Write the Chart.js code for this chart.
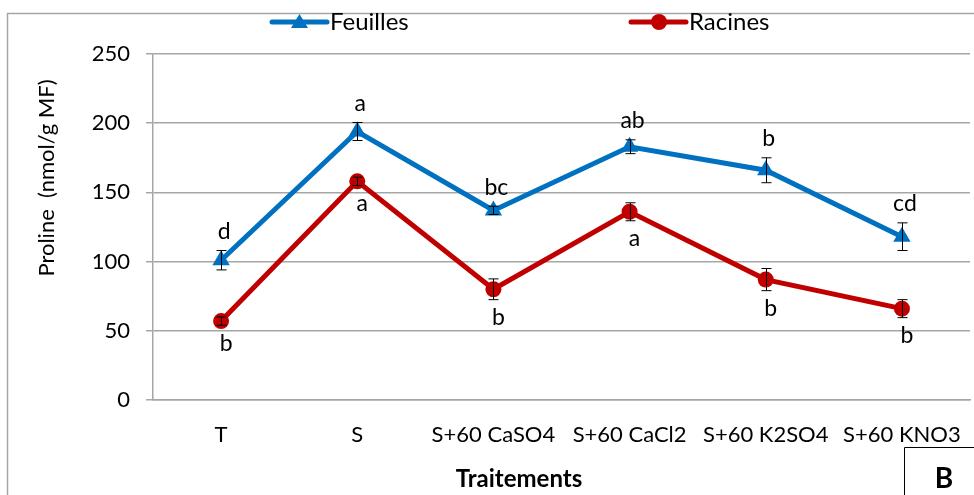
<!DOCTYPE html>
<html>
<head>
<meta charset="utf-8">
<script src="https://cdn.jsdelivr.net/npm/chart.js@4.4.0/dist/chart.umd.min.js"></script>
<style>
  html, body { margin: 0; padding: 0; background: #fff; overflow: hidden; }
  #wrap { position: relative; width: 974px; height: 495px; overflow: hidden; }
</style>
</head>
<body>
<div id="wrap"><canvas id="chart" width="980" height="495"></canvas></div>
<script>
// categories and values
const treatments = ['T', 'S', 'S+60 CaSO4', 'S+60 CaCl2', 'S+60 K2SO4', 'S+60 KNO3'];
const feuilles = [101, 194, 137, 183, 166, 118];
const feuillesErr = [7, 6.5, 3, 5, 9, 10];
const racines = [57, 158, 80, 136, 87, 66];
const racinesErr = [3, 3, 7.5, 6.5, 8, 6.5];
const lettersFeuilles = ['d', 'a', 'bc', 'ab', 'b', 'cd'];
const lettersRacines = ['b', 'a', 'b', 'a', 'b', 'b'];
const yTicks = [0, 50, 100, 150, 200, 250];

const FONT = 'Lato, "Liberation Sans", sans-serif';
const BLUE = '#0070C0';
const RED = '#C00000';
const GRID = '#a6a6a6';

// error bars, significance letters, legend, axis titles and the frame
const extras = {
  id: 'extras',
  afterDatasetsDraw(chart) {
    const ctx = chart.ctx;
    const x = chart.scales.x;
    const y = chart.scales.y;
    ctx.save();
    ctx.strokeStyle = '#000';
    ctx.lineWidth = 1;
    [[feuilles, feuillesErr], [racines, racinesErr]].forEach(([vals, errs]) => {
      vals.forEach((v, i) => {
        const px = Math.round(x.getPixelForValue(i)) + 0.5;
        const top = y.getPixelForValue(v + errs[i]);
        const bot = y.getPixelForValue(v - errs[i]);
        ctx.beginPath();
        ctx.moveTo(px, top); ctx.lineTo(px, bot);
        ctx.moveTo(px - 5, top); ctx.lineTo(px + 5, top);
        ctx.moveTo(px - 5, bot); ctx.lineTo(px + 5, bot);
        ctx.stroke();
      });
    });

    ctx.fillStyle = '#000';
    ctx.font = '23px ' + FONT;
    ctx.textAlign = 'center';
    ctx.textBaseline = 'middle';
    lettersFeuilles.forEach((t, i) => {
      ctx.fillText(t, x.getPixelForValue(i) + 3, y.getPixelForValue(feuilles[i] + feuillesErr[i]) - 19);
    });
    lettersRacines.forEach((t, i) => {
      ctx.fillText(t, x.getPixelForValue(i) + 5, y.getPixelForValue(racines[i] - racinesErr[i]) + 18);
    });
    ctx.restore();
  },
  afterDraw(chart) {
    const ctx = chart.ctx;
    ctx.save();

    // outer frame (left and top edges visible)
    ctx.strokeStyle = GRID;
    ctx.lineWidth = 1.5;
    ctx.beginPath();
    ctx.moveTo(7.5, 495); ctx.lineTo(7.5, 13.5); ctx.lineTo(980, 13.5);
    ctx.stroke();

    // legend
    const items = [
      { label: 'Feuilles', color: BLUE, style: 'triangle', x: 272 },
      { label: 'Racines', color: RED, style: 'circle', x: 631 }
    ];
    items.forEach(it => {
      const ly = 22;
      ctx.strokeStyle = it.color;
      ctx.lineWidth = 5;
      ctx.lineCap = 'round';
      ctx.beginPath();
      ctx.moveTo(it.x, ly); ctx.lineTo(it.x + 55, ly);
      ctx.stroke();
      ctx.fillStyle = it.color;
      ctx.beginPath();
      if (it.style === 'triangle') {
        ctx.moveTo(it.x + 27.5, ly - 8);
        ctx.lineTo(it.x + 36, ly + 6);
        ctx.lineTo(it.x + 19, ly + 6);
        ctx.closePath();
      } else {
        ctx.arc(it.x + 28, ly, 8, 0, Math.PI * 2);
      }
      ctx.fill();
      ctx.fillStyle = '#000';
      ctx.font = '24px ' + FONT;
      ctx.textAlign = 'left';
      ctx.textBaseline = 'middle';
      ctx.fillText(it.label, it.x + 58, ly);
    });

    // axis titles
    ctx.fillStyle = '#000';
    ctx.font = 'bold 24px ' + FONT;
    ctx.textAlign = 'center';
    ctx.textBaseline = 'middle';
    ctx.fillText('Traitements', 519, 479);

    ctx.save();
    ctx.translate(47, 178);
    ctx.rotate(-Math.PI / 2);
    ctx.font = '22px ' + FONT;
    ctx.fillText('Proline  (nmol/g MF)', 0, 0);
    ctx.restore();

    // panel tag
    ctx.strokeStyle = '#000';
    ctx.lineWidth = 1;
    ctx.beginPath();
    ctx.moveTo(904.5, 495); ctx.lineTo(904.5, 447.5); ctx.lineTo(980, 447.5);
    ctx.stroke();
    ctx.font = 'bold 28px ' + FONT;
    ctx.fillText('B', 944, 479);

    ctx.restore();
  }
};

new Chart(document.getElementById('chart'), {
  type: 'line',
  data: {
    labels: treatments,
    datasets: [
      {
        label: 'Feuilles',
        data: feuilles,
        borderColor: BLUE,
        backgroundColor: BLUE,
        borderWidth: 5,
        pointStyle: 'triangle',
        pointRadius: 10,
        pointBorderWidth: 0,
        tension: 0
      },
      {
        label: 'Racines',
        data: racines,
        borderColor: RED,
        backgroundColor: RED,
        borderWidth: 5,
        pointStyle: 'circle',
        pointRadius: 8,
        pointBorderWidth: 0,
        tension: 0
      }
    ]
  },
  options: {
    responsive: false,
    animation: false,
    layout: { padding: { top: 54, left: 0, right: 0, bottom: 0 } },
    plugins: {
      legend: { display: false },
      tooltip: { enabled: false }
    },
    scales: {
      x: {
        offset: true,
        grid: { display: false },
        border: { display: true, color: GRID, width: 1.5 },
        ticks: { color: '#000', font: { family: FONT, size: 22 }, padding: 14, maxRotation: 0, autoSkip: false },
        afterFit: s => { s.height = 95; }
      },
      y: {
        min: 0,
        max: 250,
        afterBuildTicks: s => { s.ticks = yTicks.map(v => ({ value: v })); },
        grid: { color: GRID, lineWidth: 1.5, tickLength: 7 },
        border: { display: true, color: GRID, width: 1.5 },
        ticks: { color: '#000', font: { family: FONT, size: 22 }, padding: 16 },
        afterFit: s => { s.width = 153; }
      }
    }
  },
  plugins: [extras]
});
</script>
</body>
</html>
